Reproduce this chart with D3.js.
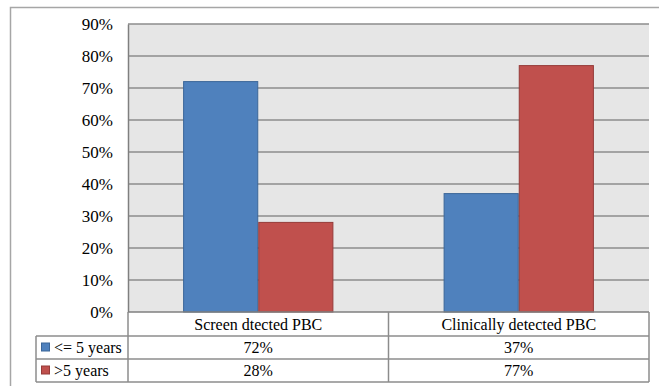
<!DOCTYPE html>
<html>
<head>
<meta charset="utf-8">
<script src="https://cdn.jsdelivr.net/npm/d3@7"></script>
<style>
  html, body { margin: 0; padding: 0; background: #fff; }
  svg { display: block; }
  text { font-family: "Liberation Serif", "DejaVu Serif", serif; fill: #000; }
</style>
</head>
<body>
<svg id="chart" width="659" height="386"></svg>
<script>
// Chart data
const categories = ["Screen dtected PBC", "Clinically detected PBC"];
const seriesNames = ["<= 5 years", ">5 years"];
const seriesValues = [
  [72, 37],   // <= 5 years
  [28, 77]    // >5 years
];
const seriesColors = ["#4f81bd", "#c0504d"];
const seriesStrokes = ["#3b6699", "#953b39"];
const yTicks = [0, 10, 20, 30, 40, 50, 60, 70, 80, 90];

const svg = d3.select("#chart");
const W = 659, H = 386;

// Outer frame
svg.append("rect")
  .attr("x", 10.5).attr("y", 7.5)
  .attr("width", W + 10).attr("height", H + 10)
  .attr("fill", "#fff").attr("stroke", "#a6a6a6").attr("stroke-width", 1.5);

const plot = { left: 128, right: 649, top: 24, bottom: 312 };

const x = d3.scaleBand().domain(categories)
  .range([plot.left, plot.right]).paddingInner(0).paddingOuter(0);
const y = d3.scaleLinear().domain([0, 90]).range([plot.bottom, plot.top]);
const xs = d3.scaleBand().domain(d3.range(seriesNames.length))
  .range([0, x.bandwidth()]).paddingInner(0).paddingOuter(0.7333);

// Plot background
svg.append("rect")
  .attr("x", plot.left).attr("y", plot.top)
  .attr("width", plot.right - plot.left).attr("height", plot.bottom - plot.top)
  .attr("fill", "#e6e6e6");

// Gridlines
svg.append("g").selectAll("line").data(yTicks.filter(t => t > 0)).join("line")
  .attr("x1", plot.left).attr("x2", plot.right)
  .attr("y1", d => y(d)).attr("y2", d => y(d))
  .attr("stroke", "#8c8c8c").attr("stroke-width", 1.5);

// Y axis labels
const yAxis = d3.axisLeft(y).tickValues(yTicks).tickFormat(d => d + "%").tickSize(0).tickPadding(15);
const yg = svg.append("g").attr("transform", `translate(${plot.left},0)`).call(yAxis);
yg.select(".domain").attr("stroke", "#7f7f7f").attr("stroke-width", 1.5);
yg.selectAll("text").attr("font-size", 17).attr("font-family", "Liberation Serif, serif");

// Bars
seriesValues.forEach((vals, si) => {
  svg.append("g").selectAll("rect").data(vals).join("rect")
    .attr("x", (d, i) => x(categories[i]) + xs(si) + 0.5)
    .attr("y", d => y(d))
    .attr("width", xs.bandwidth() - 1)
    .attr("height", d => y(0) - y(d))
    .attr("fill", seriesColors[si])
    .attr("stroke", seriesStrokes[si]).attr("stroke-width", 1);
});

// Data table beneath the plot
const rowTop = [312, 336, 359, 382];
const tableLeft = 36;
const lineColor = "#8c8c8c";
const tg = svg.append("g");

// horizontal lines
tg.append("line").attr("x1", plot.left).attr("x2", plot.right)
  .attr("y1", rowTop[0]).attr("y2", rowTop[0]).attr("stroke", "#7f7f7f").attr("stroke-width", 1.5);
[rowTop[1], rowTop[2], rowTop[3]].forEach(yy => {
  tg.append("line").attr("x1", tableLeft).attr("x2", plot.right)
    .attr("y1", yy).attr("y2", yy).attr("stroke", lineColor).attr("stroke-width", 1.5);
});
// vertical lines
tg.append("line").attr("x1", tableLeft).attr("x2", tableLeft)
  .attr("y1", rowTop[1]).attr("y2", rowTop[3]).attr("stroke", lineColor).attr("stroke-width", 1.5);
[plot.left, plot.left + x.bandwidth(), plot.right].forEach(xx => {
  tg.append("line").attr("x1", xx).attr("x2", xx)
    .attr("y1", rowTop[0]).attr("y2", rowTop[3]).attr("stroke", lineColor).attr("stroke-width", 1.5);
});

// category labels
tg.selectAll("text.cat").data(categories).join("text")
  .attr("class", "cat")
  .attr("x", d => x(d) + x.bandwidth() / 2)
  .attr("y", (rowTop[0] + rowTop[1]) / 2)
  .attr("dy", "0.35em").attr("text-anchor", "middle").attr("font-size", 16)
  .text(d => d);

// series rows
seriesNames.forEach((name, si) => {
  const yc = (rowTop[si + 1] + rowTop[si + 2]) / 2;
  tg.append("rect").attr("x", 41.5).attr("y", yc - 4.5).attr("width", 8).attr("height", 8)
    .attr("fill", seriesColors[si]).attr("stroke", seriesStrokes[si]).attr("stroke-width", 1);
  tg.append("text").attr("x", 54).attr("y", yc).attr("dy", "0.35em")
    .attr("font-size", 16).text(name);
  tg.selectAll(null).data(seriesValues[si]).join("text")
    .attr("x", (d, i) => x(categories[i]) + x.bandwidth() / 2)
    .attr("y", yc).attr("dy", "0.35em").attr("text-anchor", "middle").attr("font-size", 16)
    .text(d => d + "%");
});
</script>
</body>
</html>
